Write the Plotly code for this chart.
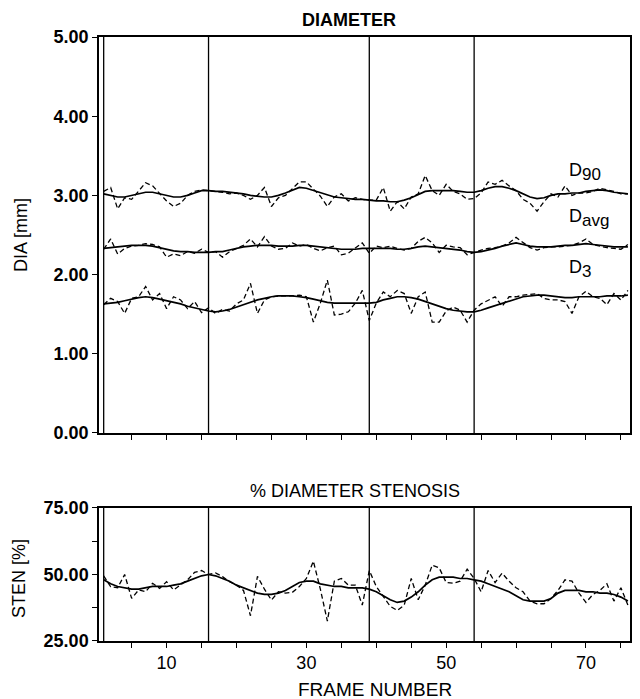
import plotly.graph_objects as go

frames = list(range(1, 77))
ed_frames = [1, 16, 39, 54]

d90_raw = [
    3.05, 3.10, 2.83, 2.97, 2.95, 3.05, 3.16, 3.12, 3.02, 2.93,
    2.86, 2.90, 3.00, 3.05, 3.07, 3.06, 3.05, 3.04, 3.02, 3.03,
    3.00, 2.95, 3.00, 3.10, 2.86, 2.97, 3.00, 3.08, 3.17, 3.17,
    3.08, 2.99, 2.86, 2.98, 3.02, 2.93, 2.97, 2.95, 2.94, 2.94,
    3.10, 2.80, 2.92, 2.83, 2.98, 3.02, 3.25, 3.06, 3.00, 3.14,
    3.05, 3.02, 2.95, 2.96, 3.03, 3.17, 3.14, 3.19, 3.12, 3.06,
    2.95, 2.90, 2.80, 2.92, 3.02, 2.98, 3.12, 3.00, 3.03, 3.03,
    3.05, 3.09, 3.07, 3.05, 3.02, 3.02]
d90_smooth = [
    3.02, 3.00, 2.98, 2.98, 3.00, 3.02, 3.04, 3.04, 3.02, 3.00,
    2.98, 2.98, 3.00, 3.03, 3.06, 3.06, 3.05, 3.05, 3.04, 3.03,
    3.02, 3.00, 2.99, 2.98, 2.98, 3.00, 3.03, 3.07, 3.10, 3.09,
    3.06, 3.03, 3.00, 2.98, 2.97, 2.96, 2.95, 2.95, 2.94, 2.93,
    2.93, 2.92, 2.92, 2.94, 2.97, 3.01, 3.05, 3.06, 3.06, 3.06,
    3.06, 3.05, 3.04, 3.04, 3.06, 3.09, 3.11, 3.11, 3.09, 3.06,
    3.02, 2.98, 2.96, 2.97, 3.00, 3.02, 3.02, 3.03, 3.03, 3.05,
    3.06, 3.07, 3.06, 3.04, 3.03, 3.02]
davg_raw = [
    2.32, 2.45, 2.26, 2.33, 2.36, 2.37, 2.39, 2.38, 2.35, 2.22,
    2.26, 2.24, 2.29, 2.27, 2.32, 2.28, 2.29, 2.22, 2.29, 2.33,
    2.37, 2.45, 2.35, 2.48, 2.36, 2.32, 2.33, 2.40, 2.36, 2.38,
    2.33, 2.30, 2.34, 2.36, 2.25, 2.27, 2.33, 2.40, 2.27, 2.36,
    2.34, 2.36, 2.33, 2.31, 2.33, 2.42, 2.47, 2.40, 2.28, 2.37,
    2.35, 2.34, 2.25, 2.28, 2.31, 2.33, 2.34, 2.36, 2.40, 2.47,
    2.40, 2.34, 2.31, 2.34, 2.35, 2.35, 2.36, 2.37, 2.40, 2.45,
    2.38, 2.36, 2.34, 2.33, 2.32, 2.38]
davg_smooth = [
    2.33, 2.34, 2.35, 2.36, 2.37, 2.37, 2.37, 2.36, 2.34, 2.32,
    2.30, 2.29, 2.29, 2.28, 2.28, 2.28, 2.29, 2.29, 2.31, 2.33,
    2.35, 2.36, 2.37, 2.37, 2.37, 2.36, 2.36, 2.36, 2.37, 2.37,
    2.36, 2.35, 2.34, 2.33, 2.32, 2.32, 2.32, 2.33, 2.33, 2.33,
    2.33, 2.33, 2.32, 2.32, 2.33, 2.35, 2.36, 2.35, 2.34, 2.33,
    2.32, 2.31, 2.29, 2.28, 2.29, 2.31, 2.33, 2.36, 2.38, 2.40,
    2.38, 2.36, 2.35, 2.35, 2.35, 2.36, 2.37, 2.37, 2.38, 2.39,
    2.38, 2.37, 2.36, 2.35, 2.35, 2.35]
d3_raw = [
    1.62, 1.70, 1.66, 1.51, 1.70, 1.72, 1.85, 1.68, 1.76, 1.57,
    1.72, 1.68, 1.57, 1.66, 1.52, 1.58, 1.51, 1.56, 1.54, 1.63,
    1.68, 1.89, 1.51, 1.68, 1.72, 1.73, 1.73, 1.73, 1.74, 1.72,
    1.40, 1.64, 1.93, 1.49, 1.50, 1.53, 1.64, 1.80, 1.42, 1.64,
    1.78, 1.72, 1.80, 1.76, 1.51, 1.72, 1.78, 1.40, 1.40, 1.54,
    1.59, 1.55, 1.40, 1.55, 1.63, 1.68, 1.72, 1.60, 1.72, 1.72,
    1.74, 1.75, 1.76, 1.70, 1.68, 1.68, 1.66, 1.51, 1.72, 1.79,
    1.72, 1.70, 1.62, 1.76, 1.68, 1.80]
d3_smooth = [
    1.63, 1.64, 1.65, 1.67, 1.69, 1.71, 1.72, 1.71, 1.69, 1.67,
    1.65, 1.63, 1.60, 1.58, 1.56, 1.54, 1.53, 1.54, 1.56, 1.59,
    1.62, 1.65, 1.68, 1.70, 1.72, 1.73, 1.73, 1.73, 1.72, 1.71,
    1.69, 1.67, 1.65, 1.64, 1.64, 1.64, 1.64, 1.64, 1.64, 1.65,
    1.68, 1.70, 1.72, 1.72, 1.71, 1.69, 1.66, 1.63, 1.60, 1.57,
    1.55, 1.54, 1.53, 1.53, 1.55, 1.58, 1.61, 1.64, 1.67, 1.70,
    1.72, 1.73, 1.74, 1.74, 1.73, 1.72, 1.71, 1.71, 1.72, 1.72,
    1.72, 1.72, 1.73, 1.73, 1.73, 1.74]
sten_raw = [
    49.5, 45.4, 45.0, 50.0, 41.0, 44.2, 43.5, 46.7, 44.8, 47.3,
    44.2, 46.0, 48.0, 50.8, 51.5, 50.0, 50.6, 49.2, 47.3, 46.0,
    44.0, 34.5, 49.3, 44.5, 40.4, 43.5, 43.0, 43.3, 45.5, 48.5,
    55.0, 44.5, 32.5, 47.5, 48.5, 46.0, 46.0, 38.5, 51.5, 45.5,
    41.5, 38.0, 36.5, 38.5, 48.5, 40.5, 46.0, 53.5, 52.5, 47.0,
    46.7, 47.5, 52.0, 48.5, 43.5, 51.5, 47.0, 50.5, 47.5, 45.0,
    43.5, 40.0, 39.0, 39.0, 41.0, 44.0, 48.0, 47.5, 43.0, 39.5,
    42.5, 44.0, 46.5, 40.0, 45.0, 38.5]
sten_smooth = [
    48.0, 46.5, 45.5, 45.0, 44.5, 44.5, 45.0, 45.5, 45.5, 45.5,
    46.0, 46.5, 47.5, 48.5, 49.5, 50.0, 49.5, 48.5, 47.5, 46.0,
    45.0, 44.0, 43.0, 42.5, 42.5, 43.0, 44.0, 45.5, 47.0, 47.5,
    47.5, 46.5, 46.0, 45.5, 45.5, 45.0, 45.0, 45.0, 44.5, 43.5,
    42.0, 40.5, 39.5, 40.0, 41.5, 43.5, 46.0, 48.0, 49.0, 49.0,
    49.0, 48.5, 48.5, 48.0, 47.5, 46.5, 45.5, 44.5, 43.5, 42.0,
    40.5, 40.0, 40.0, 40.0, 41.0, 43.0, 44.0, 44.0, 44.0, 43.5,
    43.5, 43.0, 43.0, 42.5, 41.5, 40.0]

dia_ticks = [0, 1, 2, 3, 4, 5]
sten_ticks = [25, 37.5, 50, 62.5, 75]
sten_labels = ["25.00", "", "50.00", "", "75.00"]
frame_ticks = list(range(5, 80, 5))
frame_labels = ["10", "30", "50", "70"]
dia_range = [0, 5]
sten_range = [25, 75]
x_range = [0.33, 76.3]

FONT = "Liberation Sans, Arial, sans-serif"
fig = go.Figure()

# ED frame markers
for f in ed_frames:
    fig.add_trace(go.Scatter(x=[f, f], y=dia_range, mode="lines",
                             line=dict(color="black", width=1.3),
                             xaxis="x", yaxis="y", showlegend=False, hoverinfo="skip"))
    fig.add_trace(go.Scatter(x=[f, f], y=sten_range, mode="lines",
                             line=dict(color="black", width=1.3),
                             xaxis="x2", yaxis="y2", showlegend=False, hoverinfo="skip"))

for raw, sm in [(d90_raw, d90_smooth), (davg_raw, davg_smooth), (d3_raw, d3_smooth)]:
    fig.add_trace(go.Scatter(x=frames, y=raw, mode="lines",
                             line=dict(color="black", width=1.3, dash="5px,3px"),
                             xaxis="x", yaxis="y", showlegend=False))
    fig.add_trace(go.Scatter(x=frames, y=sm, mode="lines",
                             line=dict(color="black", width=1.7),
                             xaxis="x", yaxis="y", showlegend=False))

fig.add_trace(go.Scatter(x=frames, y=sten_raw, mode="lines",
                         line=dict(color="black", width=1.3, dash="5px,3px"),
                         xaxis="x2", yaxis="y2", showlegend=False))
fig.add_trace(go.Scatter(x=frames, y=sten_smooth, mode="lines",
                         line=dict(color="black", width=1.7),
                         xaxis="x2", yaxis="y2", showlegend=False))

axis_common = dict(showline=True, linecolor="black", linewidth=1.5, showgrid=False,
                   zeroline=False, ticks="outside", ticklen=5, tickwidth=1.3,
                   tickcolor="black")

# page body has an 8px margin, so the figure is sized/offset to compensate
fig.update_layout(
    width=632, height=691,
    margin=dict(l=91, r=3, t=29, b=58),
    paper_bgcolor="white", plot_bgcolor="white",
    font=dict(family=FONT, size=18, color="black"),
    xaxis=dict(domain=[0, 1], anchor="y", range=x_range, tickvals=frame_ticks,
               showticklabels=False, mirror=True, **axis_common),
    yaxis=dict(domain=[0.3444, 1], anchor="x", range=dia_range, tickvals=dia_ticks,
               ticktext=["%.2f" % v for v in dia_ticks], mirror="ticks",
               tickfont=dict(family=FONT, size=18, color="black", weight="bold"),
               **axis_common),
    xaxis2=dict(domain=[0, 1], anchor="y2", range=x_range, tickvals=frame_ticks,
                ticktext=[str(v) if str(v) in frame_labels else "" for v in frame_ticks],
                mirror=True, tickfont=dict(family=FONT, size=18, color="black"),
                **axis_common),
    yaxis2=dict(domain=[0, 0.2202], anchor="x2", range=sten_range, tickvals=sten_ticks,
                ticktext=sten_labels, mirror="ticks",
                tickfont=dict(family=FONT, size=18, color="black", weight="bold"),
                **axis_common),
)

ann = [
    dict(text="DIAMETER", x=0.470, y=1.028, xref="paper", yref="paper",
         xanchor="center", yanchor="middle", font=dict(size=18, weight="bold")),
    dict(text="% DIAMETER STENOSIS", x=0.483, y=0.248, xref="paper", yref="paper",
         xanchor="center", yanchor="middle", font=dict(size=18)),
    dict(text="FRAME NUMBER", x=0.520, y=-0.081, xref="paper", yref="paper",
         xanchor="center", yanchor="middle", font=dict(size=19)),
    dict(text="DIA [mm]", x=-0.147, y=0.672, xref="paper", yref="paper", textangle=-90,
         xanchor="center", yanchor="middle", font=dict(size=18)),
    dict(text="STEN [%]", x=-0.151, y=0.104, xref="paper", yref="paper", textangle=-90,
         xanchor="center", yanchor="middle", font=dict(size=18)),
    dict(text="D<sub><span style='font-size:17px'>90</span></sub>", x=67.3, y=3.30,
         xref="x", yref="y", xanchor="left", yanchor="middle", font=dict(size=18)),
    dict(text="D<sub><span style='font-size:17px'>avg</span></sub>", x=67.3, y=2.71,
         xref="x", yref="y", xanchor="left", yanchor="middle", font=dict(size=18)),
    dict(text="D<sub><span style='font-size:17px'>3</span></sub>", x=67.3, y=2.07,
         xref="x", yref="y", xanchor="left", yanchor="middle", font=dict(size=18)),
]
for a in ann:
    a["showarrow"] = False
fig.update_layout(annotations=ann)

fig.write_html("out.html")
